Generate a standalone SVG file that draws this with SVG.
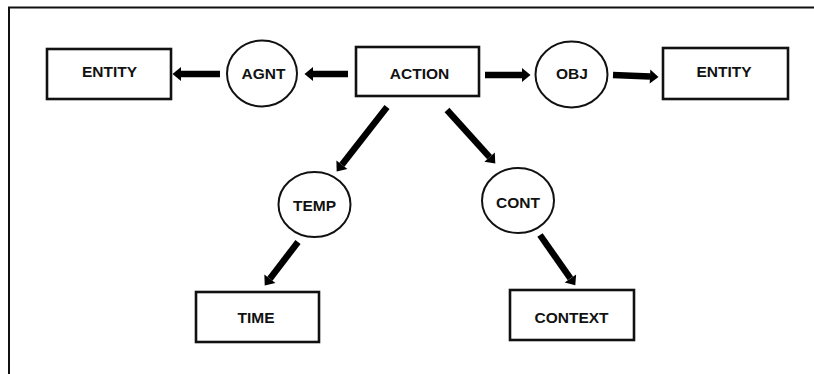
<svg xmlns="http://www.w3.org/2000/svg" width="814" height="374" viewBox="0 0 814 374">
  <style>
    .box { fill: #fff; stroke: #111; stroke-width: 2.6; }
    .rel { fill: #fff; stroke: #111; stroke-width: 2; }
    .lbl { font-family: "Liberation Sans", Arial, sans-serif; font-weight: bold; font-size: 15.5px; fill: #111; text-anchor: middle; }
    .edge { stroke: #000; stroke-width: 6.5; fill: none; marker-end: url(#head); }
    .frame { stroke: #111; stroke-width: 2; fill: none; }
  </style>
  <defs>
    <marker id="head" markerUnits="userSpaceOnUse" markerWidth="9" markerHeight="14" refX="0" refY="7" orient="auto" overflow="visible">
      <path d="M0,0 L8.5,7 L0,14 Z" fill="#000"/>
    </marker>
  </defs>

  <rect width="814" height="374" fill="#fff"/>
  <!-- frame: top and left edges only -->
  <path class="frame" d="M9,374 V7.5 H814"/>

  <g id="connectors">
    <line class="edge" x1="348" y1="74" x2="313" y2="74"/>
    <line class="edge" x1="220" y1="74" x2="181" y2="74"/>
    <line class="edge" x1="485" y1="75" x2="522" y2="75"/>
    <line class="edge" x1="613" y1="75" x2="650" y2="76.6"/>
    <line class="edge" x1="387" y1="107" x2="341.9" y2="164.7"/>
    <line class="edge" x1="447" y1="110" x2="489.6" y2="157.1"/>
    <line class="edge" x1="298" y1="242" x2="269.9" y2="278.7"/>
    <line class="edge" x1="540" y1="235" x2="570.4" y2="278.4"/>
  </g>

  <g id="entity-left">
    <rect class="box" x="47" y="49" width="124" height="50"/>
    <text class="lbl" x="109.5" y="77">ENTITY</text>
  </g>
  <g id="agnt">
    <ellipse class="rel" cx="262" cy="73.5" rx="35" ry="33"/>
    <text class="lbl" x="263.5" y="79">AGNT</text>
  </g>
  <g id="action">
    <rect class="box" x="356" y="47" width="123" height="49"/>
    <text class="lbl" x="419.5" y="79">ACTION</text>
  </g>
  <g id="obj">
    <ellipse class="rel" cx="571.5" cy="74.5" rx="36" ry="33"/>
    <text class="lbl" x="572" y="79">OBJ</text>
  </g>
  <g id="entity-right">
    <rect class="box" x="663" y="48" width="125" height="51"/>
    <text class="lbl" x="724" y="77">ENTITY</text>
  </g>
  <g id="temp">
    <ellipse class="rel" cx="314.5" cy="204.5" rx="36" ry="32.5"/>
    <text class="lbl" x="314.5" y="210.5">TEMP</text>
  </g>
  <g id="cont">
    <ellipse class="rel" cx="518" cy="200.5" rx="36" ry="32.5"/>
    <text class="lbl" x="518" y="208">CONT</text>
  </g>
  <g id="time">
    <rect class="box" x="196" y="292" width="123" height="50"/>
    <text class="lbl" x="256" y="323">TIME</text>
  </g>
  <g id="context">
    <rect class="box" x="510" y="290" width="124" height="50"/>
    <text class="lbl" x="571.5" y="323">CONTEXT</text>
  </g>
</svg>
